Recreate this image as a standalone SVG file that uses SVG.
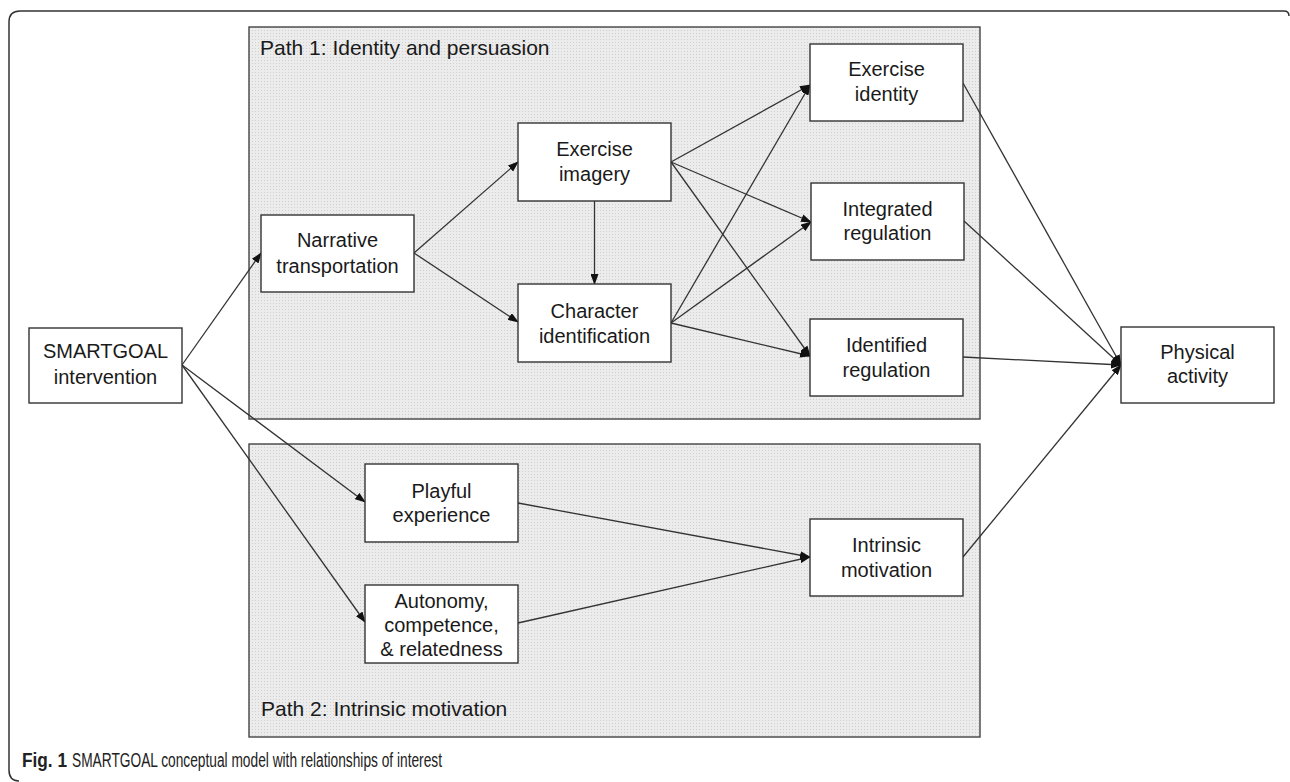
<svg xmlns="http://www.w3.org/2000/svg" width="1290" height="782" viewBox="0 0 1290 782">
  <style>
    .panel { stroke: #444; stroke-width: 1.4; fill: url(#dots); }
    .box { fill: #ffffff; stroke: #333; stroke-width: 1.4; }
    .lbl { font-family: "Liberation Sans", Arial, sans-serif; font-size: 20px; fill: #1a1a1a; text-anchor: middle; }
    .title { font-family: "Liberation Sans", Arial, sans-serif; font-size: 21px; fill: #1a1a1a; }
    .cap { font-family: "Liberation Sans", Arial, sans-serif; font-size: 19.5px; fill: #222; }
    .edge { stroke: #333; stroke-width: 1.3; fill: none; }
    .arr { marker-end: url(#ah); }
  </style>
  <defs>
    <pattern id="dots" width="3" height="3" patternUnits="userSpaceOnUse">
      <rect width="3" height="3" fill="#ececec"/>
      <rect width="1" height="1" fill="#cfcfcf"/>
    </pattern>
    <marker id="ah" markerUnits="userSpaceOnUse" markerWidth="11" markerHeight="8" refX="10" refY="4" orient="auto">
      <path d="M0,0 L11,4 L0,8 z" fill="#111"/>
    </marker>
  </defs>
  <rect width="1290" height="782" fill="#ffffff"/>
  <path d="M 1289 16 Q 1289 11 1284 11 L 20 11 Q 9 11 9 22 L 9 770 Q 9 781 19 781" fill="none" stroke="#333" stroke-width="1.5"/>

  <g id="panel1">
    <rect class="panel" x="249" y="27" width="731" height="392"/>
    <text class="title" x="260" y="55">Path 1: Identity and persuasion</text>
  </g>
  <g id="panel2">
    <rect class="panel" x="249" y="444" width="731" height="293"/>
    <text class="title" x="261" y="716">Path 2: Intrinsic motivation</text>
  </g>

  <g id="connectors">
    <line class="edge arr" x1="182" y1="365" x2="261" y2="253"/>
    <line class="edge arr" x1="182" y1="365" x2="365" y2="502"/>
    <line class="edge arr" x1="182" y1="365" x2="365" y2="622"/>
    <line class="edge arr" x1="414" y1="253" x2="518" y2="162"/>
    <line class="edge arr" x1="414" y1="253" x2="518" y2="322"/>
    <line class="edge arr" x1="594.5" y1="201" x2="594.5" y2="284"/>
    <line class="edge arr" x1="671" y1="162" x2="810" y2="85"/>
    <line class="edge arr" x1="671" y1="162" x2="811" y2="222"/>
    <line class="edge arr" x1="671" y1="162" x2="810" y2="356"/>
    <line class="edge arr" x1="671" y1="323" x2="810" y2="85"/>
    <line class="edge arr" x1="671" y1="323" x2="811" y2="222"/>
    <line class="edge arr" x1="671" y1="323" x2="810" y2="356"/>
    <line class="edge arr" x1="518" y1="503" x2="810" y2="557"/>
    <line class="edge arr" x1="518" y1="623" x2="810" y2="557"/>
    <line class="edge arr" x1="963" y1="83" x2="1121" y2="365"/>
    <line class="edge arr" x1="964" y1="221" x2="1121" y2="365"/>
    <line class="edge arr" x1="963" y1="357" x2="1121" y2="365"/>
    <line class="edge arr" x1="963" y1="557" x2="1121" y2="365"/>
  </g>

  <g id="smartgoal">
    <rect class="box" x="29" y="328" width="153" height="75"/>
    <text class="lbl" x="105.5" y="358">SMARTGOAL</text>
    <text class="lbl" x="105.5" y="384">intervention</text>
  </g>
  <g id="narrative">
    <rect class="box" x="261" y="215" width="153" height="77"/>
    <text class="lbl" x="337.5" y="247">Narrative</text>
    <text class="lbl" x="337.5" y="273">transportation</text>
  </g>
  <g id="imagery">
    <rect class="box" x="518" y="123" width="153" height="78"/>
    <text class="lbl" x="594.5" y="156">Exercise</text>
    <text class="lbl" x="594.5" y="181">imagery</text>
  </g>
  <g id="character">
    <rect class="box" x="518" y="284" width="153" height="78"/>
    <text class="lbl" x="594.5" y="318">Character</text>
    <text class="lbl" x="594.5" y="343">identification</text>
  </g>
  <g id="identity">
    <rect class="box" x="810" y="44" width="153" height="77"/>
    <text class="lbl" x="886.5" y="76">Exercise</text>
    <text class="lbl" x="886.5" y="101">identity</text>
  </g>
  <g id="integrated">
    <rect class="box" x="811" y="183" width="153" height="77"/>
    <text class="lbl" x="887.5" y="216">Integrated</text>
    <text class="lbl" x="887.5" y="240">regulation</text>
  </g>
  <g id="identified">
    <rect class="box" x="810" y="319" width="153" height="77"/>
    <text class="lbl" x="886.5" y="352">Identified</text>
    <text class="lbl" x="886.5" y="377">regulation</text>
  </g>
  <g id="physical">
    <rect class="box" x="1121" y="327" width="153" height="76"/>
    <text class="lbl" x="1197.5" y="359">Physical</text>
    <text class="lbl" x="1197.5" y="383">activity</text>
  </g>
  <g id="playful">
    <rect class="box" x="365" y="464" width="153" height="78"/>
    <text class="lbl" x="441.5" y="498">Playful</text>
    <text class="lbl" x="441.5" y="522">experience</text>
  </g>
  <g id="autonomy">
    <rect class="box" x="365" y="585" width="153" height="78"/>
    <text class="lbl" x="441.5" y="608">Autonomy,</text>
    <text class="lbl" x="441.5" y="632">competence,</text>
    <text class="lbl" x="441.5" y="656">&amp; relatedness</text>
  </g>
  <g id="intrinsic">
    <rect class="box" x="810" y="519" width="153" height="77"/>
    <text class="lbl" x="886.5" y="552">Intrinsic</text>
    <text class="lbl" x="886.5" y="577">motivation</text>
  </g>

  <g id="caption">
    <text class="cap" x="22" y="767" font-weight="bold" textLength="45" lengthAdjust="spacingAndGlyphs">Fig. 1</text>
    <text class="cap" x="72" y="767" textLength="370" lengthAdjust="spacingAndGlyphs">SMARTGOAL conceptual model with relationships of interest</text>
  </g>
</svg>
